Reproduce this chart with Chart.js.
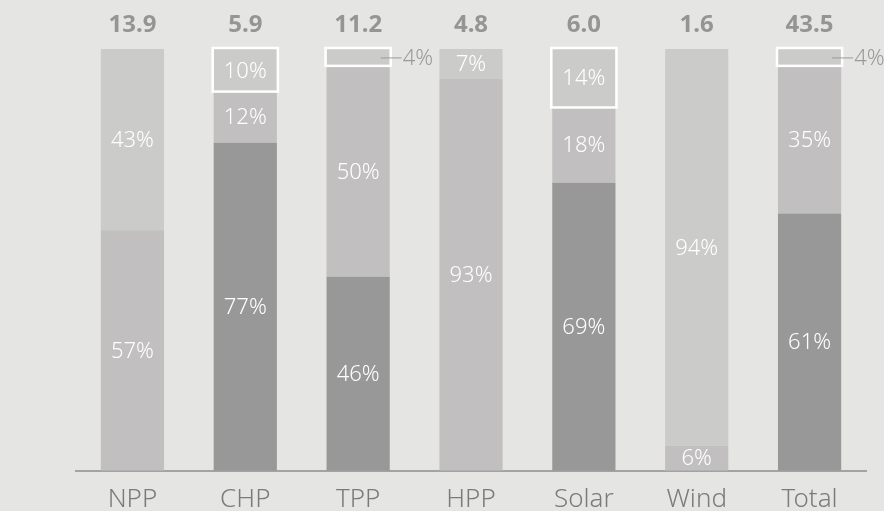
<!DOCTYPE html>
<html>
<head>
<meta charset="utf-8">
<script src="https://cdn.jsdelivr.net/npm/chart.js@4.4.1/dist/chart.umd.min.js"></script>
<style>
html,body{margin:0;padding:0;background:#e5e5e4;}
#wrap{width:884px;height:511px;position:relative;}
</style>
</head>
<body>
<div id="wrap"><canvas id="c" width="884" height="511"></canvas></div>
<script>
const categories = ["NPP", "CHP", "TPP", "HPP", "Solar", "Wind", "Total"];
const totals = [13.9, 5.9, 11.2, 4.8, 6.0, 1.6, 43.5];
const darkShare   = [0, 77, 46, 0, 69, 0, 61];
const mediumShare = [57, 12, 50, 93, 18, 6, 35];
const lightShare  = [43, 0, 0, 7, 0, 94, 0];
const boxedShare  = [0, 10, 4, 0, 14, 0, 4];

const series = [
  {raw: darkShare, color: '#979897'},
  {raw: mediumShare, color: '#c1bfc0'},
  {raw: lightShare, color: '#cbcbca'},
  {raw: boxedShare, color: '#cbcbca', boxed: true}
];
const colSums = categories.map((_, i) => series.reduce((s, d) => s + d.raw[i], 0));

const datasets = series.map(s => ({
  data: s.raw.map((v, i) => v / colSums[i] * 100),
  raw: s.raw,
  boxed: !!s.boxed,
  backgroundColor: s.color,
  borderWidth: 0,
  barPercentage: 0.56,
  categoryPercentage: 1.0
}));

const FONT = '"Noto Sans", "Open Sans", sans-serif';

const labelPlugin = {
  id: 'labels',
  afterDatasetsDraw(chart) {
    const ctx = chart.ctx;
    ctx.save();
    chart.data.datasets.forEach((ds, di) => {
      if (!ds.boxed) return;
      chart.getDatasetMeta(di).data.forEach((el, i) => {
        if (!ds.raw[i]) return;
        const w = el.width;
        const left = el.x - w / 2;
        ctx.strokeStyle = '#ffffff';
        ctx.lineWidth = 2.5;
        ctx.strokeRect(left - 1, el.y - 1, w + 2, el.base - el.y + 1);
      });
    });
    chart.data.datasets.forEach((ds, di) => {
      chart.getDatasetMeta(di).data.forEach((el, i) => {
        const v = ds.raw[i];
        if (!v) return;
        const txt = v + '%';
        const h = el.base - el.y;
        if (v < 5) {
          const right = el.x + el.width / 2;
          const cy = (el.y + el.base) / 2;
          ctx.strokeStyle = '#9a9a9a';
          ctx.lineWidth = 1;
          ctx.beginPath();
          ctx.moveTo(right - 9, cy + 0.5);
          ctx.lineTo(right + 12, cy + 0.5);
          ctx.stroke();
          ctx.fillStyle = '#9a9a9a';
          ctx.font = '300 22px ' + FONT;
          ctx.textAlign = 'left';
          ctx.textBaseline = 'middle';
          ctx.fillText(txt, right + 13, cy + 1);
        } else {
          ctx.fillStyle = '#ffffff';
          ctx.font = '300 22px ' + FONT;
          ctx.textAlign = 'center';
          ctx.textBaseline = 'middle';
          ctx.fillText(txt, el.x, el.y + h / 2 + 1);
        }
      });
    });
    const meta = chart.getDatasetMeta(0);
    ctx.fillStyle = '#959595';
    ctx.font = 'bold 24px ' + FONT;
    ctx.textAlign = 'center';
    ctx.textBaseline = 'middle';
    meta.data.forEach((el, i) => {
      ctx.fillText(totals[i].toFixed(1), el.x, 25);
    });
    ctx.restore();
  }
};

new Chart(document.getElementById('c'), {
  type: 'bar',
  data: {labels: categories, datasets: datasets},
  options: {
    responsive: false,
    animation: false,
    layout: {padding: {left: 76, right: 18, top: 49, bottom: -17}},
    plugins: {legend: {display: false}, tooltip: {enabled: false}},
    scales: {
      x: {
        stacked: true,
        grid: {display: false, drawTicks: false},
        border: {display: true, color: '#a3a3a3', width: 2},
        ticks: {color: '#7b7b7b', font: {family: FONT, size: 26, weight: '300'}, padding: 13}
      },
      y: {
        stacked: true,
        display: false,
        min: 0,
        max: 100
      }
    }
  },
  plugins: [labelPlugin]
});
</script>
</body>
</html>
